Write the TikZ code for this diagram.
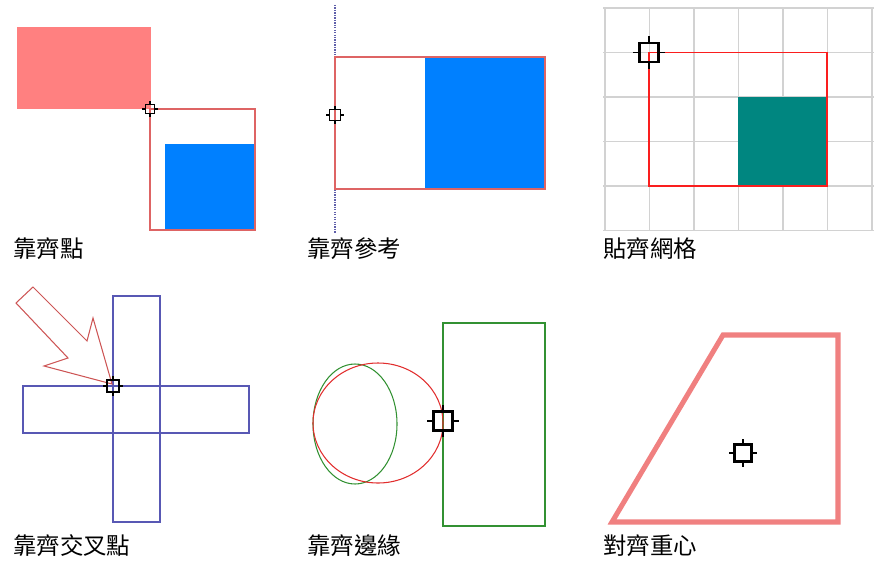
\documentclass[tikz,border=0pt]{standalone}
\usepackage{fontspec}
\newfontfamily\cjk{Noto Sans CJK TC}
\usetikzlibrary{positioning}

\definecolor{pinkfill}{RGB}{255,128,128}
\definecolor{edgered}{RGB}{222,100,100}
\definecolor{snapblue}{RGB}{0,128,255}
\definecolor{snapteal}{RGB}{0,134,128}
\definecolor{gridgray}{RGB}{210,210,210}
\definecolor{gridred}{RGB}{250,30,30}
\definecolor{crossblue}{RGB}{88,88,180}
\definecolor{arrowred}{RGB}{205,85,85}
\definecolor{edgegreen}{RGB}{50,145,50}
\definecolor{circred}{RGB}{225,45,45}
\definecolor{coral}{RGB}{240,128,128}
\definecolor{guide}{RGB}{95,95,170}

% snap cursor: square with short ticks on each side
\tikzset{
  pics/snapmark/.style args={#1/#2}{code={
    \draw[line width=#2] (-#1,-#1) rectangle (#1,#1);
    \draw[line width=1pt]
      (-#1,0) -- (-1.7*#1,0) (#1,0) -- (1.7*#1,0)
      (0,-#1) -- (0,-1.7*#1) (0,#1) -- (0,1.7*#1);
  }}
}

\begin{document}
\begin{tikzpicture}[
  x=0.03cm, y=-0.03cm,
  caption/.style={anchor=west, inner sep=0pt,
    font=\cjk\fontsize{20}{24}\selectfont},
  outline/.style={draw=#1, line width=0.9pt},
]

% Fix canvas to the reference size (pixel units, y downwards)
\useasboundingbox (0,0) rectangle (880,562);

% ---------------------------------------------------------------
% Panel 1: snap to point
% ---------------------------------------------------------------
\fill[pinkfill] (17,27) rectangle (151,109);
\fill[snapblue] (165,144) rectangle (255,230);
\draw[outline=edgered] (150,109) rectangle (255,230);
\pic (pt) at (150,109) {snapmark=4.5/1.1pt};
\node[caption] (cap1) at (13,249) {靠齊點};

% ---------------------------------------------------------------
% Panel 2: snap to reference line
% ---------------------------------------------------------------
\draw[guide, densely dotted, line width=1.1pt] (335,5) -- (335,233);
\fill[snapblue] (425,57) rectangle (545,189);
\draw[outline=edgered] (335,57) rectangle (545,189);
\pic (ref) at (335,115) {snapmark=5.5/1.6pt};
\node[caption] (cap2) at (307,249) {靠齊參考};

% ---------------------------------------------------------------
% Panel 3: snap to grid
% ---------------------------------------------------------------
\foreach \i in {0,...,6}
  \draw[gridgray, line width=1.2pt] (605+44.5*\i,8) -- (605+44.5*\i,231);
\foreach \j in {0,...,5}
  \draw[gridgray, line width=1.2pt] (603,8+44.5*\j) -- (874,8+44.5*\j);
\fill[snapteal] (738,97) rectangle (827,186);
\draw[gridred, line width=1.1pt] (649,52.5) rectangle (827,186);
\pic (grid) at (649,52.5) {snapmark=9.5/2.4pt};
\node[caption] (cap3) at (603,249) {貼齊網格};

% ---------------------------------------------------------------
% Panel 4: snap to intersection
% ---------------------------------------------------------------
\draw[outline=crossblue] (113,296) rectangle (160,522);
\draw[outline=crossblue] (23,386) rectangle (249,433);
\draw[outline=arrowred]
  (16,303) -- (33,287) -- (87,341) -- (93,318)
  -- (112,384) -- (44,366) -- (68,358) -- cycle;
\pic (cross) at (113,386) {snapmark=6/1.6pt};
\node[caption] (cap4) at (13,546) {靠齊交叉點};

% ---------------------------------------------------------------
% Panel 5: snap to edge
% ---------------------------------------------------------------
\draw[outline=edgegreen] (443,323) rectangle (545,526);
\draw[outline=edgegreen] (355,424) ellipse [x radius=42, y radius=60];
\draw[outline=circred] (378,423) ellipse [x radius=65, y radius=60];
\pic (edge) at (443,421) {snapmark=9.5/2.6pt};
\node[caption] (cap5) at (307,546) {靠齊邊緣};

% ---------------------------------------------------------------
% Panel 6: align to centroid
% ---------------------------------------------------------------
\draw[coral, line width=4.3pt, line join=miter]
  (612,522) -- (723,335) -- (838,335) -- (838,522) -- cycle;
\pic (cent) at (743,453) {snapmark=8.5/2.2pt};
\node[caption] (cap6) at (603,546) {對齊重心};

\end{tikzpicture}
\end{document}
